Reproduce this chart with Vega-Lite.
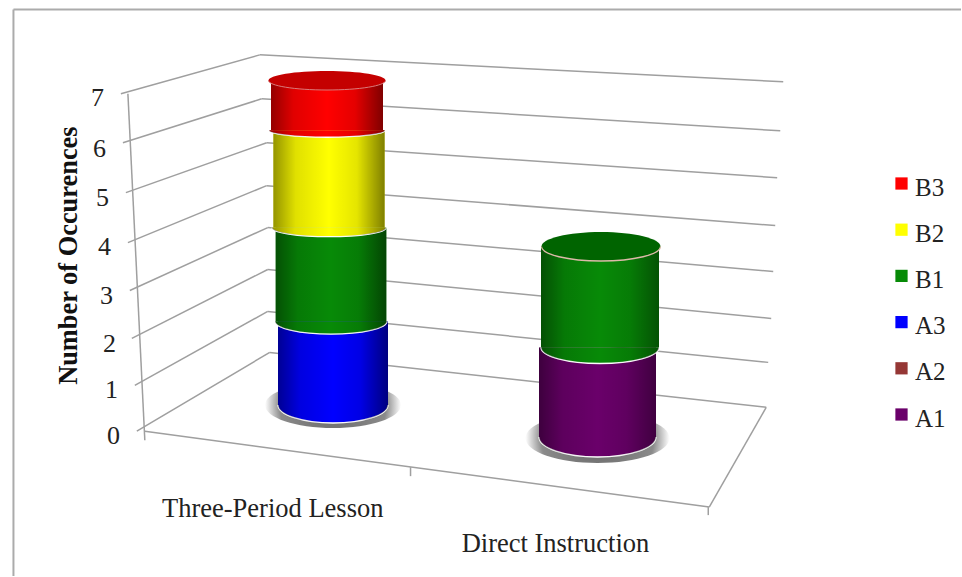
{
"$schema":"https://vega.github.io/schema/vega-lite/v6.json",
"width":962,"height":577,"autosize":{"type":"fit","contains":"padding"},"padding":0,"background":"white",
"view":{"stroke":null},
"datasets":{
"frame":[{"x":1.40,"y":-2.963,"x2":1.40,"y2":8.714},{"x":1.40,"y":8.714,"x2":100,"y2":8.714}],
"grid":[
{"x":12.58,"y":6.975,"x2":27.03,"y2":7.778},{"x":27.03,"y":7.778,"x2":81.50,"y2":7.222},
{"x":12.79,"y":5.967,"x2":27.23,"y2":6.872},{"x":27.23,"y":6.872,"x2":81.19,"y2":6.214},
{"x":13.10,"y":4.938,"x2":27.75,"y2":5.967},{"x":27.75,"y":5.967,"x2":80.87,"y2":5.247},
{"x":13.31,"y":3.909,"x2":27.75,"y2":5.082},{"x":27.75,"y":5.082,"x2":80.67,"y2":4.259},
{"x":13.51,"y":2.922,"x2":27.86,"y2":4.218},{"x":27.86,"y":4.218,"x2":80.46,"y2":3.313},
{"x":13.72,"y":1.934,"x2":27.86,"y2":3.354},{"x":27.86,"y":3.354,"x2":80.25,"y2":2.346},
{"x":14.03,"y":0.967,"x2":27.86,"y2":2.490},{"x":27.86,"y":2.490,"x2":79.94,"y2":1.440},
{"x":14.24,"y":0.021,"x2":28.07,"y2":1.646},{"x":28.07,"y":1.646,"x2":79.73,"y2":0.514},
{"x":13.31,"y":6.975,"x2":15.07,"y2":-0.165},
{"x":15.07,"y":0.021,"x2":73.80,"y2":-1.543},
{"x":73.80,"y":-1.543,"x2":79.73,"y2":0.514},
{"x":42.72,"y":-0.720,"x2":42.72,"y2":-0.905},
{"x":73.70,"y":-1.543,"x2":73.70,"y2":-1.708}],
"ticks":[
{"label":"7","x":10.15,"y":6.89},{"label":"6","x":10.36,"y":5.84},{"label":"5","x":10.67,"y":4.82},{"label":"4","x":10.88,"y":3.81},
{"label":"3","x":11.09,"y":2.80},{"label":"2","x":11.40,"y":1.81},{"label":"1","x":11.61,"y":0.87},{"label":"0","x":11.82,"y":-0.08}],
"cats":[{"label":"Three-Period Lesson","x":28.38,"y":-1.587},{"label":"Direct Instruction","x":57.80,"y":-2.31}],
"ytitle":[{"label":"Number of Occurences","x":7.17,"y":3.64}]
},
"data":{"values":[
{"lesson":"Three-Period Lesson","series":"A3","count":2},
{"lesson":"Three-Period Lesson","series":"B1","count":2},
{"lesson":"Three-Period Lesson","series":"B2","count":2},
{"lesson":"Three-Period Lesson","series":"B3","count":1},
{"lesson":"Direct Instruction","series":"A1","count":2},
{"lesson":"Direct Instruction","series":"B1","count":2}
]},
"transform":[{"stack":"count","groupby":["lesson"],"sort":[{"field":"series"}],"as":["y0","y1"]}],
"resolve":{"scale":{"x":"independent","y":"independent","shape":"independent","size":"independent"},"axis":{"x":"independent","y":"independent"}},
"layer":[
{"data":{"name":"frame"},"mark":{"type":"rule","stroke":"#ababab","strokeWidth":2},
 "encoding":{"x":{"field":"x","type":"quantitative","axis":null,"scale":{"domain":[0,100]}},"x2":{"field":"x2"},
 "y":{"field":"y","type":"quantitative","axis":null,"scale":{"domain":[-2.963,8.909]}},"y2":{"field":"y2"}}},
{"data":{"name":"grid"},"mark":{"type":"rule","stroke":"#9f9f9f","strokeWidth":1.5},
 "encoding":{"x":{"field":"x","type":"quantitative","axis":null,"scale":{"domain":[0,100]}},"x2":{"field":"x2"},
 "y":{"field":"y","type":"quantitative","axis":null,"scale":{"domain":[-2.963,8.909]}},"y2":{"field":"y2"}}},

{"transform":[{"filter":"datum.lesson==='Three-Period Lesson' && datum.series==='A3'"}],
 "mark":{"type":"point","filled":true,"opacity":1,"strokeWidth":0,"fill":{"gradient":"radial","x1":0.5,"y1":0.5,"r1":0,"x2":0.5,"y2":0.5,"r2":0.5,"stops":[{"offset":0,"color":"#666666"},{"offset":0.78,"color":"#8a8a8a"},{"offset":1,"color":"#ffffff"}]},"shape":"M-68 0A68 23 0 1 0 68 0A68 23 0 1 0 -68 0Z","size":4},
 "encoding":{"x":{"field":"series","type":"nominal","axis":null,"scale":{"type":"point","padding":0,"domain":["A3","B1","B2","B3"],"range":[333,327]}},
 "y":{"field":"y0","type":"quantitative","axis":null,"scale":{"type":"pow","exponent":1.08,"domain":[0,7],"range":[405,80.5]}}}},
{"transform":[{"filter":"datum.lesson==='Direct Instruction' && datum.series==='A1'"}],
 "mark":{"type":"point","filled":true,"opacity":1,"strokeWidth":0,"fill":{"gradient":"radial","x1":0.5,"y1":0.5,"r1":0,"x2":0.5,"y2":0.5,"r2":0.5,"stops":[{"offset":0,"color":"#666666"},{"offset":0.78,"color":"#8a8a8a"},{"offset":1,"color":"#ffffff"}]},"shape":"M-72 1A72 25 0 1 0 72 1A72 25 0 1 0 -72 1Z","size":4},
 "encoding":{"x":{"field":"series","type":"nominal","axis":null,"scale":{"type":"point","padding":0,"domain":["A1","B1"],"range":[597.5,600]}},
 "y":{"field":"y0","type":"quantitative","axis":null,"scale":{"type":"pow","exponent":1.09,"domain":[0,4],"range":[437,246.5]}}}},

{"transform":[{"filter":"datum.lesson==='Three-Period Lesson'"}],
 "mark":{"type":"bar"},
 "encoding":{"x":{"field":"series","type":"nominal","axis":null,"scale":{"type":"point","padding":0,"domain":["A3","B1","B2","B3"],"range":[333,327]}},
 "y":{"field":"y1","type":"quantitative","axis":null,"scale":{"type":"pow","exponent":1.08,"domain":[0,7],"range":[405,80.5]}},"y2":{"field":"y0"},
 "size":{"field":"series","type":"ordinal","legend":null,"scale":{"domain":["A3","B1","B2","B3"],"range":[110,112,114,116]}},
 "fill":{"field":"series","type":"nominal","scale":{"domain":["B3","B2","B1","A3","A2","A1"],"range":["#ff0000","#ffff00","#078a07","#0000ff","#953735","#6a006a"]},
  "legend":{"title":null,"orient":"none","legendX":889,"legendY":171,"symbolType":"square","symbolSize":150,"labelFont":"Liberation Serif","labelFontSize":25,"labelColor":"#222222","labelOffset":1,"rowPadding":16.2,"symbolStrokeWidth":0,"values":["B3","B2","B1","A3","A2","A1"],"encoding":{"labels":{"dy":{"value":4}}}}}}},
{"transform":[{"filter":"datum.lesson==='Three-Period Lesson'"}],
 "mark":{"type":"bar","fill":{"gradient":"linear","x1":0,"y1":0,"x2":1,"y2":0,"stops":[{"offset":0,"color":"rgba(0,0,0,0.42)"},{"offset":0.2,"color":"rgba(0,0,0,0.12)"},{"offset":0.5,"color":"rgba(0,0,0,0)"},{"offset":0.75,"color":"rgba(0,0,0,0.1)"},{"offset":1,"color":"rgba(0,0,0,0.5)"}]}},
 "encoding":{"x":{"field":"series","type":"nominal","axis":null,"scale":{"type":"point","padding":0,"domain":["A3","B1","B2","B3"],"range":[333,327]}},
 "y":{"field":"y1","type":"quantitative","axis":null,"scale":{"type":"pow","exponent":1.08,"domain":[0,7],"range":[405,80.5]}},"y2":{"field":"y0"},
 "size":{"field":"series","type":"ordinal","legend":null,"scale":{"domain":["A3","B1","B2","B3"],"range":[110,112,114,116]}}}},
{"transform":[{"filter":"datum.lesson==='Three-Period Lesson'"}],
 "mark":{"type":"point","filled":true,"opacity":1,"stroke":"#ffffff","strokeWidth":1.3,"size":4},
 "encoding":{"x":{"field":"series","type":"nominal","axis":null,"scale":{"type":"point","padding":0,"domain":["A3","B1","B2","B3"],"range":[333,327]}},
 "y":{"field":"y0","type":"quantitative","axis":null,"scale":{"type":"pow","exponent":1.08,"domain":[0,7],"range":[405,80.5]}},
 "shape":{"field":"series","type":"nominal","legend":null,"scale":{"domain":["A3","B1","B2","B3"],"range":["M-55 0A55 18 0 0 0 55 0","M-56 0A56 13 0 0 0 56 0","M-57 0A57 9 0 0 0 57 0","M-58 0A58 7 0 0 0 58 0"]}},
 "fill":{"field":"series","type":"nominal","legend":null,"scale":{"domain":["B3","B2","B1","A3","A2","A1"],"range":["#ff0000","#ffff00","#078a07","#0000ff","#953735","#6a006a"]}}}},
{"transform":[{"filter":"datum.lesson==='Three-Period Lesson'"}],
 "mark":{"type":"point","filled":true,"opacity":1,"strokeWidth":0,"size":4,"fill":{"gradient":"linear","x1":0,"y1":0,"x2":1,"y2":0,"stops":[{"offset":0,"color":"rgba(0,0,0,0.42)"},{"offset":0.2,"color":"rgba(0,0,0,0.12)"},{"offset":0.5,"color":"rgba(0,0,0,0)"},{"offset":0.75,"color":"rgba(0,0,0,0.1)"},{"offset":1,"color":"rgba(0,0,0,0.5)"}]}},
 "encoding":{"x":{"field":"series","type":"nominal","axis":null,"scale":{"type":"point","padding":0,"domain":["A3","B1","B2","B3"],"range":[333,327]}},
 "y":{"field":"y0","type":"quantitative","axis":null,"scale":{"type":"pow","exponent":1.08,"domain":[0,7],"range":[405,80.5]}},
 "shape":{"field":"series","type":"nominal","legend":null,"scale":{"domain":["A3","B1","B2","B3"],"range":["M-55 0A55 18 0 0 0 55 0","M-56 0A56 13 0 0 0 56 0","M-57 0A57 9 0 0 0 57 0","M-58 0A58 7 0 0 0 58 0"]}}}},
{"transform":[{"filter":"datum.lesson==='Three-Period Lesson' && datum.series==='B3'"}],
 "mark":{"type":"point","filled":true,"opacity":1,"strokeWidth":0,"fill":"#c40000","shape":"M-58.5 0A58.5 9.5 0 1 0 58.5 0A58.5 9.5 0 1 0 -58.5 0Z","size":4},
 "encoding":{"x":{"field":"series","type":"nominal","axis":null,"scale":{"type":"point","padding":0,"domain":["A3","B1","B2","B3"],"range":[333,327]}},
 "y":{"field":"y1","type":"quantitative","axis":null,"scale":{"type":"pow","exponent":1.08,"domain":[0,7],"range":[405,80.5]}}}},
{"transform":[{"filter":"datum.lesson==='Three-Period Lesson' && datum.series==='B3'"}],
 "mark":{"type":"point","filled":false,"opacity":1,"stroke":"#d97a7a","strokeWidth":1,"shape":"M-58.5 0A58.5 9.5 0 0 0 58.5 0","size":4},
 "encoding":{"x":{"field":"series","type":"nominal","axis":null,"scale":{"type":"point","padding":0,"domain":["A3","B1","B2","B3"],"range":[333,327]}},
 "y":{"field":"y1","type":"quantitative","axis":null,"scale":{"type":"pow","exponent":1.08,"domain":[0,7],"range":[405,80.5]}}}},

{"transform":[{"filter":"datum.lesson==='Direct Instruction'"}],
 "mark":{"type":"bar"},
 "encoding":{"x":{"field":"series","type":"nominal","axis":null,"scale":{"type":"point","padding":0,"domain":["A1","B1"],"range":[597.5,600]}},
 "y":{"field":"y1","type":"quantitative","axis":null,"scale":{"type":"pow","exponent":1.09,"domain":[0,4],"range":[437,246.5]}},"y2":{"field":"y0"},
 "size":{"field":"series","type":"ordinal","legend":null,"scale":{"domain":["A1","B1"],"range":[117,118]}},
 "fill":{"field":"series","type":"nominal","legend":null,"scale":{"domain":["B3","B2","B1","A3","A2","A1"],"range":["#ff0000","#ffff00","#078a07","#0000ff","#953735","#6a006a"]}}}},
{"transform":[{"filter":"datum.lesson==='Direct Instruction'"}],
 "mark":{"type":"bar","fill":{"gradient":"linear","x1":0,"y1":0,"x2":1,"y2":0,"stops":[{"offset":0,"color":"rgba(0,0,0,0.42)"},{"offset":0.2,"color":"rgba(0,0,0,0.12)"},{"offset":0.5,"color":"rgba(0,0,0,0)"},{"offset":0.75,"color":"rgba(0,0,0,0.1)"},{"offset":1,"color":"rgba(0,0,0,0.4)"}]}},
 "encoding":{"x":{"field":"series","type":"nominal","axis":null,"scale":{"type":"point","padding":0,"domain":["A1","B1"],"range":[597.5,600]}},
 "y":{"field":"y1","type":"quantitative","axis":null,"scale":{"type":"pow","exponent":1.09,"domain":[0,4],"range":[437,246.5]}},"y2":{"field":"y0"},
 "size":{"field":"series","type":"ordinal","legend":null,"scale":{"domain":["A1","B1"],"range":[117,118]}}}},
{"transform":[{"filter":"datum.lesson==='Direct Instruction'"}],
 "mark":{"type":"point","filled":true,"opacity":1,"stroke":"#ffffff","strokeWidth":1.3,"size":4},
 "encoding":{"x":{"field":"series","type":"nominal","axis":null,"scale":{"type":"point","padding":0,"domain":["A1","B1"],"range":[597.5,600]}},
 "y":{"field":"y0","type":"quantitative","axis":null,"scale":{"type":"pow","exponent":1.09,"domain":[0,4],"range":[437,246.5]}},
 "shape":{"field":"series","type":"nominal","legend":null,"scale":{"domain":["A1","B1"],"range":["M-58.5 0A58.5 20 0 0 0 58.5 0","M-59 0A59 16 0 0 0 59 0"]}},
 "fill":{"field":"series","type":"nominal","legend":null,"scale":{"domain":["B3","B2","B1","A3","A2","A1"],"range":["#ff0000","#ffff00","#078a07","#0000ff","#953735","#6a006a"]}}}},
{"transform":[{"filter":"datum.lesson==='Direct Instruction'"}],
 "mark":{"type":"point","filled":true,"opacity":1,"strokeWidth":0,"size":4,"fill":{"gradient":"linear","x1":0,"y1":0,"x2":1,"y2":0,"stops":[{"offset":0,"color":"rgba(0,0,0,0.42)"},{"offset":0.2,"color":"rgba(0,0,0,0.12)"},{"offset":0.5,"color":"rgba(0,0,0,0)"},{"offset":0.75,"color":"rgba(0,0,0,0.1)"},{"offset":1,"color":"rgba(0,0,0,0.4)"}]}},
 "encoding":{"x":{"field":"series","type":"nominal","axis":null,"scale":{"type":"point","padding":0,"domain":["A1","B1"],"range":[597.5,600]}},
 "y":{"field":"y0","type":"quantitative","axis":null,"scale":{"type":"pow","exponent":1.09,"domain":[0,4],"range":[437,246.5]}},
 "shape":{"field":"series","type":"nominal","legend":null,"scale":{"domain":["A1","B1"],"range":["M-58.5 0A58.5 20 0 0 0 58.5 0","M-59 0A59 16 0 0 0 59 0"]}}}},
{"transform":[{"filter":"datum.lesson==='Direct Instruction' && datum.series==='B1'"}],
 "mark":{"type":"point","filled":true,"opacity":1,"strokeWidth":0,"fill":"#006400","shape":"M-59.5 0A59.5 14.5 0 1 0 59.5 0A59.5 14.5 0 1 0 -59.5 0Z","size":4},
 "encoding":{"x":{"field":"series","type":"nominal","axis":null,"scale":{"type":"point","padding":0,"domain":["A1","B1"],"range":[597.5,601]}},
 "y":{"field":"y1","type":"quantitative","axis":null,"scale":{"type":"pow","exponent":1.09,"domain":[0,4],"range":[437,246.5]}}}},
{"transform":[{"filter":"datum.lesson==='Direct Instruction' && datum.series==='B1'"}],
 "mark":{"type":"point","filled":false,"opacity":1,"stroke":"#dcb9a8","strokeWidth":1.3,"shape":"M-59.5 0A59.5 14.5 0 0 0 59.5 0","size":4},
 "encoding":{"x":{"field":"series","type":"nominal","axis":null,"scale":{"type":"point","padding":0,"domain":["A1","B1"],"range":[597.5,601]}},
 "y":{"field":"y1","type":"quantitative","axis":null,"scale":{"type":"pow","exponent":1.09,"domain":[0,4],"range":[437,246.5]}}}},

{"data":{"name":"ticks"},"mark":{"type":"text","font":"Liberation Serif","fontSize":26,"color":"#222222","baseline":"middle","align":"center"},
 "encoding":{"text":{"field":"label","type":"nominal"},"x":{"field":"x","type":"quantitative","axis":null,"scale":{"domain":[0,100]}},
 "y":{"field":"y","type":"quantitative","axis":null,"scale":{"domain":[-2.963,8.909]}}}},
{"data":{"name":"cats"},"mark":{"type":"text","font":"Liberation Serif","fontSize":26.5,"color":"#222222","baseline":"middle","align":"center"},
 "encoding":{"text":{"field":"label","type":"nominal"},"x":{"field":"x","type":"quantitative","axis":null,"scale":{"domain":[0,100]}},
 "y":{"field":"y","type":"quantitative","axis":null,"scale":{"domain":[-2.963,8.909]}}}},
{"data":{"name":"ytitle"},"mark":{"type":"text","font":"Liberation Serif","fontSize":26.4,"fontWeight":"bold","color":"#111111","baseline":"middle","align":"center","angle":270},
 "encoding":{"text":{"field":"label","type":"nominal"},"x":{"field":"x","type":"quantitative","axis":null,"scale":{"domain":[0,100]}},
 "y":{"field":"y","type":"quantitative","axis":null,"scale":{"domain":[-2.963,8.909]}}}}
]
}
